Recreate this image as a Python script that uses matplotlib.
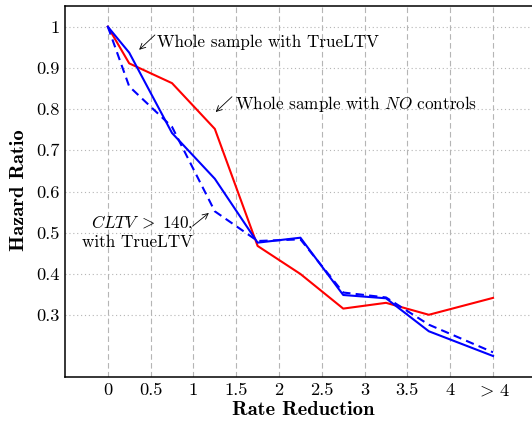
import numpy as np
import matplotlib
matplotlib.use("Agg")
import matplotlib.pyplot as plt

plt.rcParams["font.family"] = "serif"
plt.rcParams["font.serif"] = ["cmr10"]
plt.rcParams["mathtext.fontset"] = "cm"
plt.rcParams["axes.unicode_minus"] = False
plt.rcParams["axes.formatter.use_mathtext"] = True

# rate reduction positions (last one is the "> 4" bucket)
x_pos = [0, 0.25, 0.75, 1.25, 1.75, 2.25, 2.75, 3.25, 3.75, 4.5]

hr_no_controls = [1.0, 0.911, 0.863, 0.752, 0.468, 0.400, 0.316, 0.330, 0.301, 0.342]
hr_true_ltv = [1.0, 0.937, 0.742, 0.631, 0.476, 0.488, 0.349, 0.341, 0.261, 0.201]
hr_cltv140 = [1.0, 0.855, 0.757, 0.552, 0.480, 0.484, 0.355, 0.343, 0.277, 0.210]

x_ticks = [0, 0.5, 1, 1.5, 2, 2.5, 3, 3.5, 4, 4.5]
x_ticklabels = ["0", "0.5", "1", "1.5", "2", "2.5", "3", "3.5", "4", r"$>\,4$"]
y_ticks = [0.3, 0.4, 0.5, 0.6, 0.7, 0.8, 0.9, 1.0]
y_ticklabels = ["0.3", "0.4", "0.5", "0.6", "0.7", "0.8", "0.9", "1"]

FS = 12.3
TICK_FS = 13.3
LABEL_FS = 14.8

fig = plt.figure(figsize=(5.32, 4.22), dpi=100)
ax = fig.add_axes([0.1222, 0.1066, 0.885, 0.879])

ax.plot(x_pos, hr_no_controls, color="#ff0000", lw=1.5, zorder=3)
ax.plot(x_pos, hr_true_ltv, color="#0000ff", lw=1.5, zorder=4)
ax.plot(x_pos, hr_cltv140, color="#0000ff", lw=1.5, ls=(0, (4, 2.5)), zorder=4)

ax.set_xlim(-0.5, 5)
ax.set_ylim(0.15, 1.05)
ax.set_xticks(x_ticks)
ax.set_xticklabels(x_ticklabels, fontsize=TICK_FS)
ax.set_yticks(y_ticks)
ax.set_yticklabels(y_ticklabels, fontsize=TICK_FS)
ax.tick_params(length=0, pad=4)

ax.xaxis.grid(True, color="#b5b5b5", ls=(0, (5, 3)), lw=0.8)
ax.yaxis.grid(True, color="#b5b5b5", ls=(0, (1, 2.5)), lw=0.8)
ax.set_axisbelow(True)
ax.spines["right"].set_visible(False)
for s in ["left", "top", "bottom"]:
    ax.spines[s].set_linewidth(1.1)

ax.set_xlabel("Rate Reduction", fontfamily="cmb10", fontsize=LABEL_FS)
ax.xaxis.set_label_coords(0.506, -0.064)
ax.set_ylabel("Hazard Ratio", fontfamily="cmb10", fontsize=LABEL_FS)
ax.yaxis.set_label_coords(-0.079, 0.504)

arrow = dict(arrowstyle="->", lw=0.6, color="black", shrinkA=0, shrinkB=0)

ax.annotate("", xy=(0.366, 0.944), xytext=(0.55, 0.98), arrowprops=arrow)
ax.text(0.572, 0.963, "Whole sample with TrueLTV", fontsize=FS, va="center", ha="left")

ax.annotate("", xy=(1.26, 0.793), xytext=(1.45, 0.83), arrowprops=arrow)
ax.text(1.48, 0.813, r"Whole sample with $NO$ controls", fontsize=FS, va="center", ha="left")

ax.annotate("", xy=(1.18, 0.548), xytext=(0.99, 0.516), arrowprops=arrow)
ax.text(0.995, 0.503, "$CLTV\\;>\\;140$,\nwith TrueLTV", fontsize=FS, va="center", ha="right",
        multialignment="right", linespacing=1.15)

fig.savefig("out.png", dpi=100)
